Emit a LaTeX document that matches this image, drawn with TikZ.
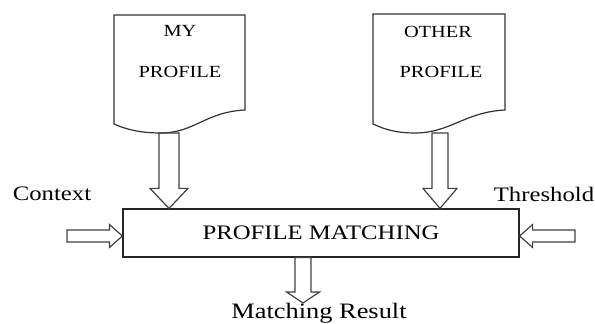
\documentclass[tikz,border=0pt]{standalone}
\usepackage{fontspec}
\setmainfont{Liberation Serif}[FakeStretch=1.2]
\usetikzlibrary{calc}

\tikzset{
  docline/.style={draw=black!80, line width=0.6pt},
  arrowline/.style={draw=black!75, line width=0.6pt},
  matchbox/.style={draw=black!85, line width=0.6pt, minimum width=198pt, minimum height=24pt, inner sep=0pt, font=\fontsize{10.3}{12}\selectfont},
  sidelabel/.style={anchor=base, font=\fontsize{10.3}{12}\selectfont},
  doclabel/.style={anchor=base, font=\fontsize{8.5}{10}\selectfont},
}

% hollow block arrow: from, to, shaft width, head width, head length
\newcommand{\blockarrow}[5]{%
  \draw[arrowline] let \p1=(#1), \p2=(#2),
      \n1={atan2(\y2-\y1,\x2-\x1)}, \n2={veclen(\x2-\x1,\y2-\y1)} in
    [shift={(\p1)}, rotate=\n1]
    (0pt,{-#3/2}) -- ({\n2-#5},{-#3/2}) -- ({\n2-#5},{-#4/2}) -- (\n2,0pt)
    -- ({\n2-#5},{#4/2}) -- ({\n2-#5},{#3/2}) -- (0pt,{#3/2}) -- cycle;}

\begin{document}
\begin{tikzpicture}[x=0.5pt, y=-0.5pt]
\useasboundingbox (0,0) rectangle (595,324);
% the two profile sheets
\draw[docline] (114,15) -- (245,15) -- (245,110) .. controls (205,112) and (195,133) .. (160,133) .. controls (140,133) and (125,129) .. (114,124) -- cycle;
\draw[docline] (373,14) -- (505,14) -- (505,110) .. controls (465,112) and (450,133) .. (415,133) .. controls (395,133) and (384,129) .. (373,124) -- cycle;
\node[doclabel] (mytop) at (180,37) {MY};
\node[doclabel] (mybottom) at (180,78) {PROFILE};
\node[doclabel] (othertop) at (438,38) {OTHER};
\node[doclabel] (otherbottom) at (441,78) {PROFILE};
% matching block and inputs
\node[matchbox] (match) at (321,233) {PROFILE MATCHING};
\node[sidelabel] (context) at (52,201) {Context};
\node[sidelabel] (threshold) at (544,202) {Threshold};
\node[anchor=base, font=\fontsize{11}{13}\selectfont] (result) at (319,319) {Matching Result};
\coordinate (mytail) at (169,133);
\coordinate (othertail) at (440,133);
\coordinate (contexttail) at (67,236);
\coordinate (thresholdtail) at (575,236);
\coordinate (resulttip) at (303,303);
% arrows
\blockarrow{mytail}{match.north -| mytail}{10pt}{19pt}{10pt}
\blockarrow{othertail}{match.north -| othertail}{8pt}{17pt}{10pt}
\blockarrow{contexttail}{match.west |- contexttail}{6pt}{11.5pt}{6.5pt}
\blockarrow{thresholdtail}{match.east |- thresholdtail}{6pt}{11.5pt}{6.5pt}
\blockarrow{match.south -| resulttip}{resulttip}{8pt}{16.5pt}{5.5pt}
\end{tikzpicture}
\end{document}
